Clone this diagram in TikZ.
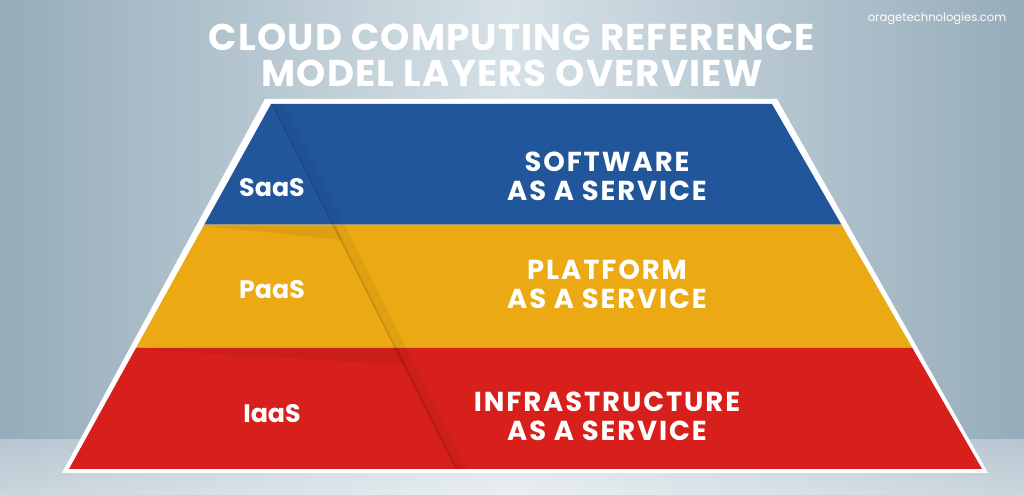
\documentclass[tikz,border=0pt]{standalone}
\usepackage{fontspec}
\usetikzlibrary{calc}
\setmainfont{Poppins}
\begin{document}
\begin{tikzpicture}[x=0.01cm,y=-0.01cm,
  lbl/.style={text=white,font=\fontsize{7.2}{8.5}\selectfont\bfseries,align=center},
  big/.style={text=white,font=\fontsize{7.8}{8.2}\selectfont\bfseries\addfontfeatures{LetterSpace=7},align=center}]
\definecolor{cblue}{RGB}{34,86,155}
\definecolor{cyel}{RGB}{235,169,19}
\definecolor{cred}{RGB}{215,32,27}
\definecolor{bgA}{RGB}{150,172,186}
\definecolor{bgB}{RGB}{214,225,231}
\useasboundingbox (0,0) rectangle (1024,495);
\shade[left color=bgA,right color=bgA,middle color=bgB] (0,0) rectangle (1024,495);
\shade[top color=bgB,bottom color=white,opacity=.5] (0,440) rectangle (1024,495);
\node[big,font=\fontsize{10.6}{10.2}\selectfont\bfseries\addfontfeatures{LetterSpace=3}] (title) at (512,55) {CLOUD COMPUTING REFERENCE\\MODEL LAYERS OVERVIEW};
\node[text=white,font=\fontsize{3.3}{4}\selectfont] (web) at (937,19) {oragetechnologies.com};
% trapezoid
\fill[white] (265,99) -- (777,99) -- (988,473) -- (62,473) -- cycle;
\coordinate (tl) at (271,104); \coordinate (tr) at (772,104);
\coordinate (bl) at (69,469); \coordinate (br) at (982,469);
\fill[cblue] (tl) -- (tr) -- ($(tr)!0.3307!(br)$) -- ($(tl)!0.3307!(bl)$) -- cycle;
\fill[cyel] ($(tl)!0.3307!(bl)$) -- ($(tr)!0.3307!(br)$) -- ($(tr)!0.6685!(br)$) -- ($(tl)!0.6685!(bl)$) -- cycle;
\fill[cred] ($(tl)!0.6685!(bl)$) -- ($(tr)!0.6685!(br)$) -- (br) -- (bl) -- cycle;
% fold shadows
\fill[black,opacity=.06] (205,226) -- (336,226) -- (343,240) -- cycle;
\fill[black,opacity=.06] (137,349) -- (398,349) -- (405,365) -- cycle;
\fill[black,opacity=.05] (272,104) -- (284,104) -- (467,469) -- (455,469) -- cycle;
\draw[black,opacity=.10,line width=0.5pt] (272,104) -- (457,469);
% labels
\node[lbl] (saas) at (272,188) {SaaS};
\node[lbl] (paas) at (272,290) {PaaS};
\node[lbl] (iaas) at (272,414) {IaaS};
\node[big] (sw) at (607,176) {SOFTWARE\\AS A SERVICE};
\node[big] (pf) at (607,284) {PLATFORM\\AS A SERVICE};
\node[big] (in) at (607,416) {INFRASTRUCTURE\\AS A SERVICE};
\end{tikzpicture}
\end{document}
